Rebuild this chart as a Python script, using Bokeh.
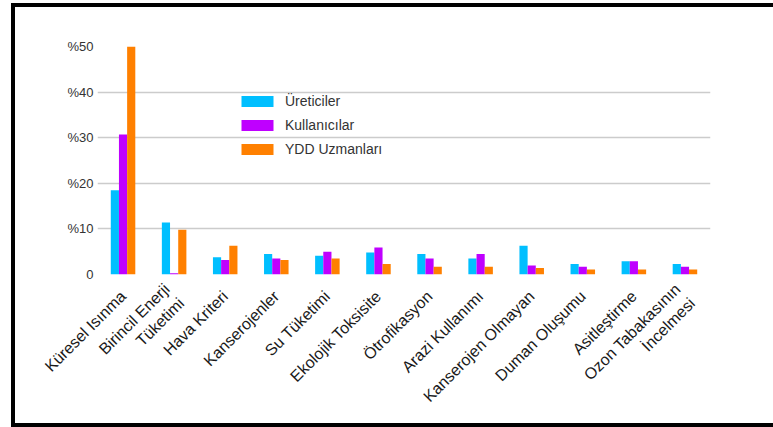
from math import pi

from bokeh.embed import file_html
from bokeh.models import (ColumnDataSource, FactorRange, FixedTicker,
                          Legend, LegendItem, Range1d)
from bokeh.plotting import figure
from bokeh.resources import INLINE
from bokeh.transform import dodge

# Impact categories (x axis)
categories = [
    "Küresel Isınma",
    "Birincil Enerji\nTüketimi",
    "Hava Kriteri",
    "Kanserojenler",
    "Su Tüketimi",
    "Ekolojik Toksisite",
    "Ötrofikasyon",
    "Arazi Kullanımı",
    "Kanserojen Olmayan",
    "Duman Oluşumu",
    "Asitleştirme",
    "Ozon Tabakasının\nİncelmesi",
]

# Share of importance given by each stakeholder group (%)
ureticiler = [18.5, 11.4, 3.8, 4.5, 4.1, 4.8, 4.5, 3.5, 6.3, 2.3, 2.9, 2.3]
kullanicilar = [30.7, 0.3, 3.2, 3.5, 5.0, 5.9, 3.5, 4.5, 2.0, 1.7, 2.9, 1.7]
ydd_uzmanlari = [50.0, 9.8, 6.3, 3.2, 3.5, 2.3, 1.7, 1.7, 1.4, 1.1, 1.1, 1.1]

series_names = ["Üreticiler", "Kullanıcılar", "YDD Uzmanları"]

y_ticks = [0, 10, 20, 30, 40, 50]
y_tick_labels = ["0", "%10", "%20", "%30", "%40", "%50"]

colors = ["#00bfff", "#bf00ff", "#ff8000"]
FONT = "Liberation Sans"

source = ColumnDataSource(dict(cat=categories, u=ureticiler, k=kullanicilar, y=ydd_uzmanlari))

p = figure(
    width=773, height=427,
    x_range=FactorRange(*categories, range_padding=0),
    y_range=Range1d(0, 50),
    output_backend="svg", toolbar_location=None,
    min_border_left=97, min_border_right=63,
    min_border_top=46, min_border_bottom=153,
)
p.outline_line_color = None
p.background_fill_color = "white"
p.border_fill_color = None

# Thick black frame on the left, top and bottom of the chart card
p.styles = {
    "background-color": "white",
    "box-shadow": (
        "inset 11px 0 0 0 white, inset 0 3px 0 0 white, "
        "inset 15px 0 0 0 black, inset 0 7px 0 0 black, inset 0 -4px 0 0 black"
    ),
}

bw = 0.16
renderers = []
for field, off, col in zip(["u", "k", "y"], [-bw, 0.0, bw], colors):
    r = p.vbar(x=dodge("cat", off, range=p.x_range), top=field, width=bw,
               bottom=0, source=source, fill_color=col, line_color=None)
    renderers.append(r)

# Axes
p.xgrid.grid_line_color = None
p.ygrid.grid_line_color = "#cccccc"
p.ygrid.grid_line_width = 1.5
p.ygrid.ticker = FixedTicker(ticks=y_ticks)

p.yaxis.ticker = FixedTicker(ticks=y_ticks)
p.yaxis.major_label_overrides = {t: s for t, s in zip(y_ticks, y_tick_labels)}
p.yaxis.axis_line_color = None
p.yaxis.major_tick_line_color = None
p.yaxis.minor_tick_line_color = None
p.yaxis.major_tick_out = 0
p.yaxis.major_label_standoff = 4
p.yaxis.major_label_text_font = FONT
p.yaxis.major_label_text_font_size = "13px"
p.yaxis.major_label_text_color = "#333333"

p.xaxis.axis_line_color = None
p.xaxis.major_tick_line_color = None
p.xaxis.minor_tick_line_color = None
p.xaxis.major_label_orientation = pi / 4
p.xaxis.major_label_standoff = 13
p.xaxis.major_label_text_font = FONT
p.xaxis.major_label_text_font_size = "16px"
p.xaxis.major_label_text_color = "#1a1a1a"

legend = Legend(
    items=[LegendItem(label=n, renderers=[r]) for n, r in zip(series_names, renderers)],
    location=(140, 117),
    glyph_width=40, glyph_height=14,
    label_height=14, label_standoff=8, spacing=8,
    padding=0, margin=0,
    border_line_color=None, background_fill_alpha=0,
    label_text_font=FONT, label_text_font_size="14px", label_text_color="#333333",
)
p.add_layout(legend, "center")

open("out.html", "w").write(file_html(p, INLINE))
